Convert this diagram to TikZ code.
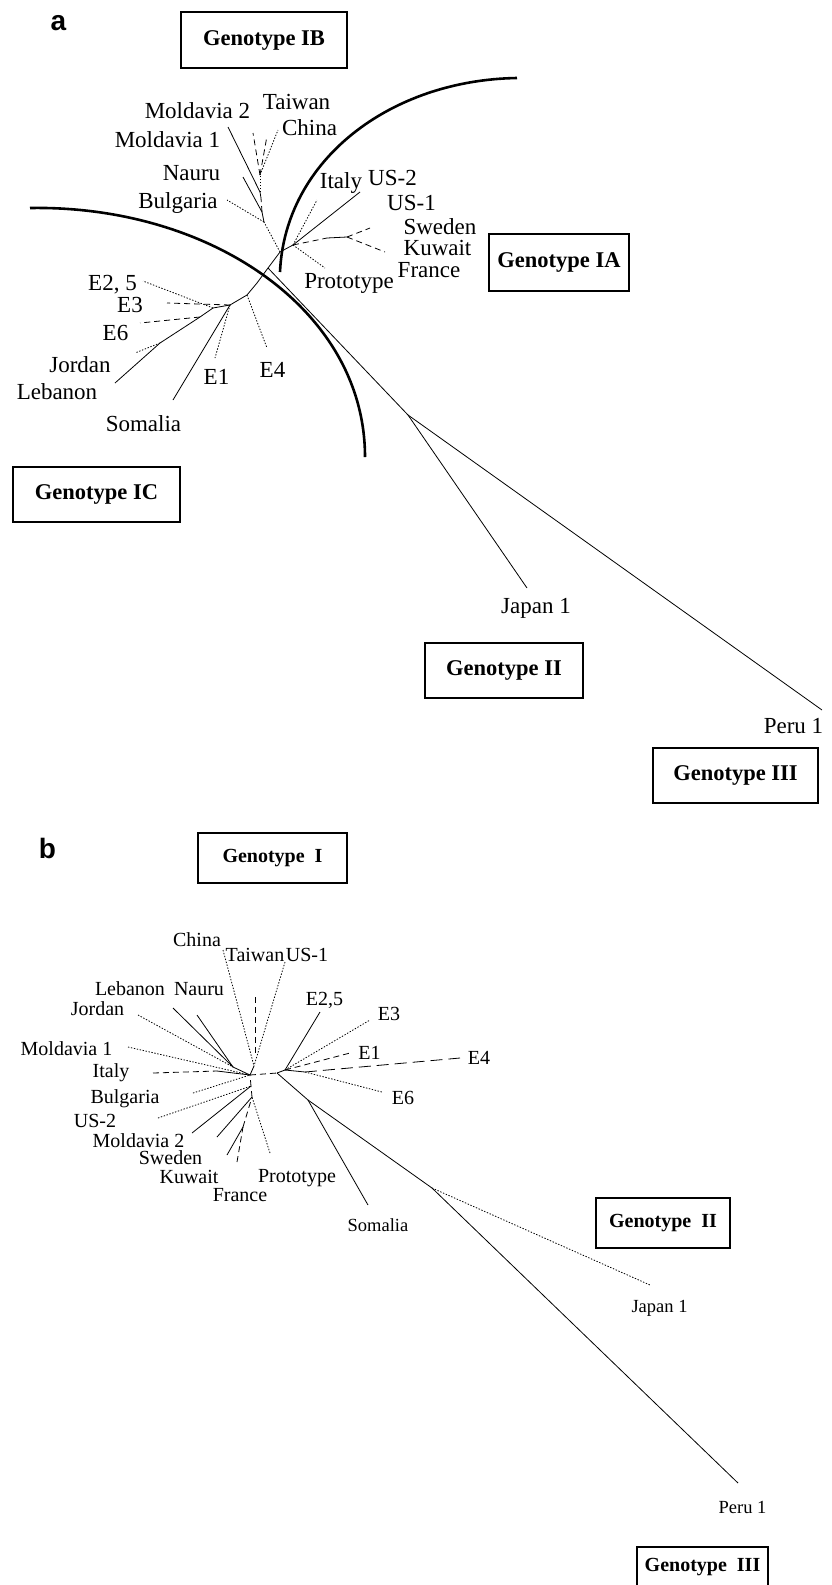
\documentclass[tikz,border=0pt]{standalone}
\usepackage{fontspec}
\setmainfont{Liberation Serif}
\newfontfamily\panelfont{Liberation Sans}
\begin{document}
\begin{tikzpicture}[x=1pt,y=-1pt,
  br/.style={line width=0.8pt},
  brdot/.style={line width=0.8pt, dash pattern=on 1.4pt off 1.6pt},
  brdash/.style={line width=0.8pt, dash pattern=on 6pt off 4pt},
  brlong/.style={line width=0.8pt, dash pattern=on 12pt off 6pt},
  arcline/.style={line width=2.6pt},
  la/.style={anchor=base, inner sep=0pt, font=\fontsize{23}{26}\selectfont},
  lb/.style={anchor=base, inner sep=0pt, font=\fontsize{20}{22}\selectfont},
  lbs/.style={anchor=base, inner sep=0pt, font=\fontsize{18.5}{22}\selectfont},
  gboxa/.style={draw, line width=1.6pt, inner sep=0pt, font=\bfseries\fontsize{22.5}{26}\selectfont},
  gboxb/.style={draw, line width=1.6pt, inner sep=0pt, font=\bfseries\fontsize{20}{24}\selectfont},
  panel/.style={anchor=base, inner sep=0pt, font=\panelfont\bfseries\fontsize{28}{30}\selectfont}]
\useasboundingbox (0,0) rectangle (831,1585);

% ---------------- panel a ----------------
\node[panel] (pa) at (58.5,30) {a};

\node[gboxa, minimum width=166pt, minimum height=56pt] (gIB) at (264,40) {Genotype IB};
\node[gboxa, minimum width=140pt, minimum height=57pt] (gIA) at (559,262.5) {Genotype IA};
\node[gboxa, minimum width=167pt, minimum height=55pt] (gIC) at (96.5,494.5) {Genotype IC};
\node[gboxa, minimum width=158pt, minimum height=55pt] (gIIa) at (504,670.5) {Genotype II};
\node[gboxa, minimum width=165pt, minimum height=55pt] (gIIIa) at (735.5,775.5) {Genotype III};

% arcs
\draw[arcline] (280,272) .. controls (285,160) and (390,80) .. (517,78);
\draw[arcline] (30,208) .. controls (210,205) and (365,310) .. (365,457);

% tree a coordinates
\coordinate (aR) at (268,268);
\coordinate (aJ1) at (280,252);
\coordinate (aB1) at (264,222);
\coordinate (aB2) at (262,212);
\coordinate (aB3) at (261,198);
\coordinate (aB4) at (260,192);
\coordinate (aB5) at (260,175);
\coordinate (tBul) at (227,200);
\coordinate (tNau) at (243,177);
\coordinate (tMol) at (228,127);
\coordinate (tTai) at (253,133);
\coordinate (tChi) at (278,130);
\coordinate (tChi2) at (267,136);
\coordinate (aA1) at (293,245);
\coordinate (tIta) at (317,200);
\coordinate (tUS2) at (360,192);
\coordinate (aA1b) at (327,238);
\coordinate (aA2) at (347,237);
\coordinate (tSwe) at (370,228);
\coordinate (tKuw) at (385,252);
\coordinate (tPro) at (325,268);
\coordinate (aC0) at (257,283);
\coordinate (aC0b) at (247,295);
\coordinate (aC1) at (230,305);
\coordinate (tE4) at (267,348);
\coordinate (tSom) at (173,400);
\coordinate (tE1) at (215,358);
\coordinate (aC2) at (213,308);
\coordinate (tE3) at (167,303);
\coordinate (tE25) at (143,281);
\coordinate (aL1) at (200,317);
\coordinate (aL2) at (160,343);
\coordinate (tLeb) at (115,383);
\coordinate (tE6) at (140,323);
\coordinate (tJor) at (135,353);
\coordinate (aN2) at (408,415);
\coordinate (tJap) at (527,588);
\coordinate (tPer) at (822,710);

% IB
\draw[br] (aR) -- (aJ1);
\draw[brdot] (aJ1) -- (aB1);
\draw[brdot] (aB1) -- (tBul);
\draw[br] (aB1) -- (aB2);
\draw[br] (aB2) -- (tNau);
\draw[brdash] (aB2) -- (aB3);
\draw[br] (aB3) -- (aB4);
\draw[br] (aB4) -- (tMol);
\draw[brdot] (aB4) -- (aB5);
\draw[brdash] (aB5) -- (tTai);
\draw[brdot] (aB5) -- (tChi);
\draw[brdash] (aB5) -- (tChi2);
% IA
\draw[br] (aJ1) -- (aA1);
\draw[brdot] (aA1) -- (tIta);
\draw[br] (aA1) -- (tUS2);
\draw[brdash] (aA1) -- (aA1b);
\draw[br] (aA1b) -- (aA2);
\draw[brdash] (aA2) -- (tSwe);
\draw[brdash] (aA2) -- (tKuw);
\draw[brdot] (aA1) -- (tPro);
% IC
\draw[br] (aR) -- (aC0) -- (aC0b) -- (aC1);
\draw[brdot] (aC0b) -- (tE4);
\draw[br] (aC1) -- (tSom);
\draw[brdot] (aC1) -- (tE1);
\draw[brdash] (aC1) -- (tE3);
\draw[br] (aC1) -- (aC2);
\draw[brdot] (aC2) -- (tE25);
\draw[br] (aC2) -- (aL1) -- (aL2) -- (tLeb);
\draw[brdash] (aL1) -- (tE6);
\draw[brdot] (aL2) -- (tJor);
% long branch
\draw[br] (aR) -- (aN2);
\draw[br] (aN2) -- (tJap);
\draw[br] (aN2) -- (tPer);

% labels a
\node[la] (lMol2) at (197.5,118) {Moldavia 2};
\node[la] (lTai) at (296.5,109) {Taiwan};
\node[la] (lChi) at (309.5,135) {China};
\node[la] (lMol1) at (167.5,147) {Moldavia 1};
\node[la] (lNau) at (191.5,180) {Nauru};
\node[la] (lBul) at (178,208) {Bulgaria};
\node[la] (lIta) at (341,188) {Italy};
\node[la] (lUS2) at (392.5,185) {US-2};
\node[la] (lUS1) at (411.5,210) {US-1};
\node[la] (lSwe) at (440,234) {Sweden};
\node[la] (lKuw) at (437.5,255) {Kuwait};
\node[la] (lFra) at (429,277) {France};
\node[la] (lPro) at (349,288) {Prototype};
\node[la] (lE25) at (112.5,290) {E2, 5};
\node[la] (lE3) at (130,312) {E3};
\node[la] (lE6) at (115.5,340) {E6};
\node[la] (lJor) at (80,372) {Jordan};
\node[la] (lLeb) at (57,399) {Lebanon};
\node[la] (lSom) at (143.5,431) {Somalia};
\node[la] (lE1) at (216.5,384) {E1};
\node[la] (lE4) at (272.5,377) {E4};
\node[la] (lJap) at (536,613) {Japan 1};
\node[la] (lPer) at (793.5,733) {Peru 1};

% ---------------- panel b ----------------
\node[panel] (pb) at (47.5,858) {b};

\node[gboxb, minimum width=149pt, minimum height=50pt] (gI) at (272.5,858) {Genotype\ \ I};
\node[gboxb, minimum width=134pt, minimum height=50pt] (gIIb) at (663,1223) {Genotype\ \ II};
\node[gboxb, minimum width=131pt, minimum height=40pt] (gIIIb) at (702.5,1567) {Genotype\ \ III};

\coordinate (bCL) at (250,1075);
\coordinate (bCR) at (277,1073);
\coordinate (bT0) at (254,1066);
\coordinate (tbChi) at (223,950);
\coordinate (tbUS1) at (285,962);
\coordinate (tbTai) at (255,997);
\coordinate (bTai1) at (255,1055);
\coordinate (bLJ) at (233,1067);
\coordinate (tbLeb) at (173,1008);
\coordinate (tbNau) at (197,1015);
\coordinate (tbJor) at (138,1015);
\coordinate (tbMo1) at (128,1047);
\coordinate (tbIta) at (153,1073);
\coordinate (bIt1) at (217,1071);
\coordinate (tbBul) at (193,1093);
\coordinate (tbUS2) at (158,1118);
\coordinate (tbMo2) at (192,1133);
\coordinate (bD0) at (251,1086);
\coordinate (bD1) at (252,1097);
\coordinate (tbSwe) at (217,1137);
\coordinate (bK1) at (243,1127);
\coordinate (tbKuw) at (227,1155);
\coordinate (tbFra) at (237,1162);
\coordinate (tbPro) at (270,1153);
\coordinate (bE0) at (285,1070);
\coordinate (tbE25) at (320,1012);
\coordinate (tbE3) at (370,1020);
\coordinate (tbE1) at (350,1053);
\coordinate (bE5) at (305,1072);
\coordinate (tbE4) at (460,1058);
\coordinate (tbE6) at (382,1092);
\coordinate (bS) at (308,1100);
\coordinate (tbSom) at (368,1205);
\coordinate (bN) at (432,1188);
\coordinate (tbJap) at (650,1285);
\coordinate (tbPer) at (738,1483);

\draw[brdot] (tbChi) -- (bT0);
\draw[brdot] (tbUS1) -- (bT0);
\draw[brdash] (tbTai) -- (bTai1);
\draw[br] (bT0) -- (bCL);
\draw[br] (tbLeb) -- (bLJ);
\draw[br] (tbNau) -- (bLJ);
\draw[brdot] (tbJor) -- (bLJ);
\draw[br] (bLJ) -- (bCL);
\draw[brdot] (tbMo1) -- (bCL);
\draw[brdash] (tbIta) -- (bIt1);
\draw[br] (bIt1) -- (bCL);
\draw[brdot] (tbBul) -- (bCL);
\draw[brdot] (tbUS2) -- (bD0);
\draw[br] (tbMo2) -- (bD0);
\draw[brdash] (bD0) -- (bCL);
\draw[br] (tbSwe) -- (bD1);
\draw[br] (tbKuw) -- (bK1);
\draw[brdash] (tbFra) -- (bK1);
\draw[brdash] (bK1) -- (bD1);
\draw[brdot] (tbPro) -- (bD1);
\draw[brdash] (bD1) -- (bD0);
\draw[brdash] (bCL) -- (bCR);
\draw[br] (bCR) -- (bE0);
\draw[br] (bE0) -- (tbE25);
\draw[brdot] (bE0) -- (tbE3);
\draw[brdash] (bE0) -- (tbE1);
\draw[br] (bE0) -- (bE5);
\draw[brlong] (bE5) -- (tbE4);
\draw[brdot] (bE5) -- (tbE6);
\draw[br] (bCR) -- (bS);
\draw[br] (bS) -- (tbSom);
\draw[br] (bS) -- (bN);
\draw[brdot] (bN) -- (tbJap);
\draw[br] (bN) -- (tbPer);

\node[lb] (mChi) at (197,946) {China};
\node[lb] (mTai) at (255,961) {Taiwan};
\node[lb] (mUS1) at (307,961) {US-1};
\node[lb] (mLeb) at (130,995) {Lebanon};
\node[lb] (mNau) at (199,995) {Nauru};
\node[lb] (mJor) at (97.5,1015) {Jordan};
\node[lb] (mMo1) at (66.5,1055) {Moldavia 1};
\node[lb] (mIta) at (111,1077) {Italy};
\node[lb] (mBul) at (125,1103) {Bulgaria};
\node[lb] (mUS2) at (95,1127) {US-2};
\node[lb] (mMo2) at (138.5,1147) {Moldavia 2};
\node[lb] (mSwe) at (170.5,1164) {Sweden};
\node[lb] (mKuw) at (189,1183) {Kuwait};
\node[lb] (mFra) at (240,1201) {France};
\node[lb] (mPro) at (297,1182) {Prototype};
\node[lb] (mE25) at (324.5,1005) {E2,5};
\node[lb] (mE3) at (389,1020) {E3};
\node[lb] (mE1) at (369.5,1059) {E1};
\node[lb] (mE4) at (479,1064) {E4};
\node[lb] (mE6) at (403,1104) {E6};
\node[lbs] (mSom) at (378,1231) {Somalia};
\node[lbs] (mJap) at (659.5,1312) {Japan 1};
\node[lbs] (mPer) at (742.5,1513) {Peru 1};
\end{tikzpicture}
\end{document}
